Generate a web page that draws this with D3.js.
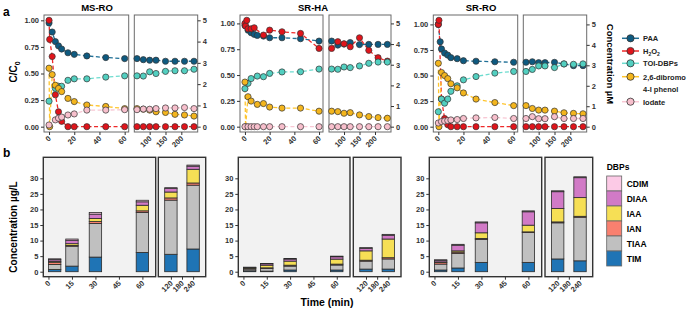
<!DOCTYPE html>
<html>
<head>
<meta charset="utf-8">
<title>PAA / DBPs</title>
<style>
  body { margin: 0; background: #fff; }
  svg { display: block; font-family: "Liberation Sans", Arial, sans-serif; }
  .tick text { font-weight: bold; fill: #333; font-size: 7.5px; }
  .tick line { stroke: #333; }
</style>
</head>
<body>
<script src="https://cdn.jsdelivr.net/npm/d3@7"></script>
<script>

// ---- panel a: sampling times (min) ----
const topTimes = [0, 0.5, 1.5, 2.5, 5, 7.5, 10, 15, 20, 30, 45, 60, 80, 100, 120, 150, 180, 210, 240];

// PAA and H2O2 as C/C0, the other three in µM (right axis)
const msroPAA    = [0.975, null, null, 0.89, 0.80, 0.76, 0.73, 0.695, 0.68, 0.665, 0.65, 0.64, 0.63, 0.625, 0.625, 0.615, 0.615, 0.615, 0.615];
const msroH2O2   = [1.0, 0.82, null, 0.66, 0.30, 0.14, 0.05, 0, 0, 0, 0, 0, 0, 0, 0, 0, 0, 0, 0];
const msroTOI    = [1.2, null, null, null, 1.8, 1.9, 1.9, 2.18, 2.25, 2.25, 2.33, 2.39, 2.38, 2.58, 2.5, 2.6, 2.63, 2.63, 2.7];
const msroPhenol = [2.75, 0, null, 2.45, 1.95, 1.8, 1.65, 1.33, 1.18, 1.02, 0.95, 0.85, 0.82, 0.78, 0.7, 0.67, 0.58, 0.55, 0.5];
const msroIodate = [0.08, null, null, null, 0.32, 0.4, 0.45, 0.55, 0.6, 0.78, 0.78, 0.8, 0.83, 0.82, 0.85, 0.88, 0.88, 0.9, 0.85];

const srhaPAA    = [0.98, null, null, 0.935, 0.91, 0.894, 0.884, 0.877, 0.861, 0.861, 0.852, 0.829, 0.79, 0.80, 0.815, 0.795, 0.797, 0.797, 0.797];
const srhaH2O2   = [1.0, 0.975, 1.03, 0.948, 0.948, 0.958, null, 0.887, 0.935, 0.919, 0.903, 0.758, 0.823, 0.803, 0.774, 0.861, 0.739, 0.668, 0.635];
const srhaTOI    = [1.84, null, null, 2.1, 2.33, null, 2.45, 2.42, 2.58, 2.65, 2.66, 2.79, 2.78, 2.89, 2.86, 2.94, 3.07, 3.13, 3.13];
const srhaPhenol = [2.16, 0, null, 1.45, 1.24, null, 1.08, 1.12, 0.95, 0.9, 0.9, 0.75, 0.73, 0.65, 0.68, 0.57, 0.49, 0.44, 0.41];
const srhaIodate = [0, null, null, 0, 0, 0, 0, 0, 0, 0, 0, 0, 0, 0, 0, 0, 0, 0, 0];

const srroPAA    = [1.0, null, 0.83, 0.76, 0.72, 0.70, 0.675, 0.665, 0.645, 0.64, 0.635, 0.63, 0.635, 0.626, 0.626, 0.629, 0.613, 0.597, 0.597];
const srroH2O2   = [1.0, 1.04, null, 0.27, 0.08, 0.02, 0.0, 0, 0, 0, 0, 0, 0, 0, 0, 0, 0, 0, 0];
const srroTOI    = [0.73, null, null, 1.35, 1.15, 1.35, 1.73, 2.0, 2.29, 2.45, 2.62, 2.7, 2.8, 2.97, 2.97, 2.89, 3.07, 3.05, 3.07];
const srroPhenol = [3.1, 0, null, 2.65, 2.5, 2.35, 2.1, 1.9, 1.65, 1.35, 1.18, 1.03, 0.89, 0.81, 0.81, 0.76, 0.68, 0.65, 0.63];
const srroIodate = [0.18, null, null, 0.25, 0.28, 0.3, 0.33, 0.35, 0.4, 0.43, 0.45, 0.4, 0.49, 0.39, 0.39, 0.49, 0.4, 0.4, 0.4];

const topTitles = ['MS-RO', 'SR-HA', 'SR-RO'];
const topLeftTicks = [0, 0.25, 0.5, 0.75, 1];
const topRightTicks = [0, 1, 2, 3, 4, 5];

// ---- panel b: DBPs (µg/L) ----
const barTimes = [0, 15, 30, 60, 120, 240];
const dbpNames = ['TIM', 'TIAA', 'IAN', 'IAA', 'DIAA', 'CDIM'];

const msroTIM  = [0.75, 1.8, 4.7, 6.2, 5.6, 7.3];
const msroTIAA = [1.6, 6.4, 10.8, 12.85, 17.4, 20.5];
const msroIAN  = [0.7, 0.25, 0.6, 0.5, 0.7, 0.7];
const msroIAA  = [0.3, 0.55, 1.0, 1.8, 1.9, 4.4];
const msroDIAA = [0.5, 1.1, 1.4, 1.1, 1.1, 1.0];
const msroCDIM = [0.3, 0.4, 0.5, 0.5, 0.3, 0.35];

const srhaTIM  = [0.3, 0.2, 0.55, 0.55, 0.85, 0.85];
const srhaTIAA = [0.55, 0.85, 1.25, 1.6, 2.55, 3.25];
const srhaIAN  = [0.2, 0.2, 0.3, 0.3, 0.3, 0.4];
const srhaIAA  = [0.25, 0.85, 1.3, 1.6, 3.0, 6.0];
const srhaDIAA = [0.1, 0.45, 0.65, 0.75, 0.75, 1.2];
const srhaCDIM = [0.05, 0.1, 0.2, 0.2, 0.3, 0.3];

const srroTIM  = [0.55, 1.2, 3.0, 3.0, 4.1, 3.5];
const srroTIAA = [1.9, 4.7, 7.4, 9.6, 11.6, 14.0];
const srroIAN  = [0.5, 0.4, 0.3, 0.2, 0.3, 0.3];
const srroIAA  = [0.2, 0.4, 1.8, 2.15, 4.3, 6.0];
const srroDIAA = [0.5, 1.8, 3.2, 4.3, 5.4, 6.4];
const srroCDIM = [0.2, 0.3, 0.3, 0.3, 0.3, 0.3];

const barLeftTicks = [0, 15, 30, 45, 60];
const barRightTicks = [120, 180, 240];
const barYTicks = [0, 5, 10, 15, 20, 25, 30];

// ---- styles ----
const series = [
    {key: 'PAA',    fill: '#0e5a80', line: '#1f6f96', uM: false},
    {key: 'H2O2',   fill: '#e0141b', line: '#ee2a2a', uM: false},
    {key: 'TOI',    fill: '#52cfc0', line: '#6ddccf', uM: true},
    {key: 'phenol', fill: '#f3b51d', line: '#ffc52e', uM: true},
    {key: 'iodate', fill: '#f7bfcc', line: '#f8c8d4', uM: true}
];
const dbpColor = d3.scaleOrdinal()
    .domain(dbpNames)
    .range(['#1f74b5', '#c0c0c0', '#f9806f', '#f6df55', '#d17ac6', '#fccae6']);

const topGeo = [
    {l0: 44, l1: 128.7, r0: 134.3, r1: 197.7, tx: 97},
    {l0: 240, l1: 323, r0: 329, r1: 391, tx: 313},
    {l0: 433.3, l1: 517.7, r0: 523.3, r1: 586.7, tx: 481}
];
const topY0 = 132, topY1 = 15;

const botGeo = [
    {l0: 43.3, l1: 155.7, r0: 158.3, r1: 205.7},
    {l0: 238.3, l1: 350, r0: 353.3, r1: 401},
    {l0: 429.3, l1: 541.7, r0: 545, r1: 592.7}
];
const botY0 = 276.7, botY1 = 157.3;
const barW = 12.4;

const svg = d3.select('body').append('svg')
    .attr('width', 693)
    .attr('height', 309);

function styleAxis(g) {
    g.select('.domain').remove();
}

function rotateLabels(g) {
    g.selectAll('.tick text')
        .attr('y', 0).attr('dy', 0)
        .attr('transform', 'translate(2,7) rotate(-45)')
        .style('text-anchor', 'end');
}

// ================= panel a =================
const topData = [
    [msroPAA, msroH2O2, msroTOI, msroPhenol, msroIodate],
    [srhaPAA, srhaH2O2, srhaTOI, srhaPhenol, srhaIodate],
    [srroPAA, srroH2O2, srroTOI, srroPhenol, srroIodate]
];

topData.forEach((vals, pi) => {
    const geo = topGeo[pi];
    const maxC = d3.max(vals, (arr, i) => d3.max(arr, v => v == null ? 0 : (series[i].uM ? v / 5 : v)));
    const pad = maxC * 0.05;
    const y = d3.scaleLinear().domain([-pad, maxC + pad]).range([topY0, topY1]);
    const yR = d3.scaleLinear().domain([-pad * 5, (maxC + pad) * 5]).range([topY0, topY1]);

    const subs = [
        {x: d3.scaleLinear().domain([-4, 63.2]).range([geo.l0, geo.l1]), keep: t => t <= 60, ticks: [0, 20, 40, 60]},
        {x: d3.scaleLinear().domain([51.5, 251.7]).range([geo.r0, geo.r1]), keep: t => t >= 60, ticks: [100, 150, 200]}
    ];

    const g = svg.append('g');

    subs.forEach(s => {
        const [a, b] = s.x.range();
        g.append('rect')
            .attr('x', a).attr('y', topY1)
            .attr('width', b - a).attr('height', topY0 - topY1)
            .attr('fill', '#fff').attr('stroke', '#6b6b6b').attr('stroke-width', 1);

        g.append('g')
            .attr('transform', 'translate(0,' + topY0 + ')')
            .call(d3.axisBottom(s.x).tickValues(s.ticks).tickSize(3).tickPadding(2))
            .call(styleAxis)
            .call(rotateLabels);

        const pts = vals.map((arr, i) => topTimes
            .map((t, j) => ({t: t, v: arr[j]}))
            .filter(d => d.v != null && s.keep(d.t)));

        const line = i => d3.line()
            .x(d => s.x(d.t))
            .y(d => series[i].uM ? yR(d.v) : y(d.v));

        pts.forEach((p, i) => {
            g.append('path')
                .datum(p)
                .attr('d', line(i))
                .attr('fill', 'none')
                .attr('stroke', series[i].line)
                .attr('stroke-width', 1.3)
                .attr('stroke-dasharray', '4,2.5');
        });

        pts.forEach((p, i) => {
            g.selectAll(null)
                .data(p)
                .enter().append('circle')
                .attr('cx', d => s.x(d.t))
                .attr('cy', d => series[i].uM ? yR(d.v) : y(d.v))
                .attr('r', 3.1)
                .attr('fill', series[i].fill)
                .attr('stroke', '#333')
                .attr('stroke-width', 0.7);
        });
    });

    g.append('g')
        .attr('transform', 'translate(' + geo.l0 + ',0)')
        .call(d3.axisLeft(y).tickValues(topLeftTicks).tickFormat(d3.format('.2f')).tickSize(3).tickPadding(2))
        .call(styleAxis);

    g.append('g')
        .attr('transform', 'translate(' + geo.r1 + ',0)')
        .call(d3.axisRight(yR).tickValues(topRightTicks).tickFormat(d3.format('d')).tickSize(3).tickPadding(2))
        .call(styleAxis);

    g.append('text')
        .attr('x', geo.tx).attr('y', 11)
        .attr('text-anchor', 'middle')
        .style('font-size', '9.5px').style('font-weight', 'bold')
        .text(topTitles[pi]);
});

svg.append('text')
    .attr('x', 3).attr('y', 16)
    .style('font-size', '12px').style('font-weight', 'bold')
    .text('a');

const cc0 = svg.append('text')
    .attr('transform', 'translate(17,72) rotate(-90)')
    .attr('text-anchor', 'middle')
    .style('font-size', '10px').style('font-weight', 'bold');
cc0.append('tspan').text('C/C');
cc0.append('tspan').attr('dy', 2.5).style('font-size', '7px').text('0');

svg.append('text')
    .attr('transform', 'translate(607,64) rotate(90)')
    .attr('text-anchor', 'middle')
    .style('font-size', '9.5px').style('font-weight', 'bold')
    .text('Concentration µM');

// legend a
const legA = svg.append('g').attr('transform', 'translate(622,0)');
const legRows = [38.3, 51, 63.3, 76.7, 101.7];
series.forEach((s, i) => {
    const ly = legRows[i];
    legA.append('line')
        .attr('x1', 0).attr('x2', 17).attr('y1', ly).attr('y2', ly)
        .attr('stroke', s.line).attr('stroke-width', 1.5);
    legA.append('circle')
        .attr('cx', 8.5).attr('cy', ly).attr('r', 3.6)
        .attr('fill', s.fill).attr('stroke', '#333').attr('stroke-width', 0.8);
});
const legText = (ly) => legA.append('text')
    .attr('x', 21).attr('y', ly + 2.8)
    .style('font-size', '7.5px').style('font-weight', 'bold').style('fill', '#222');
legText(38.3).text('PAA');
const h2o2 = legText(51);
h2o2.append('tspan').text('H');
h2o2.append('tspan').attr('dy', 1.8).style('font-size', '5px').text('2');
h2o2.append('tspan').attr('dy', -1.8).text('O');
h2o2.append('tspan').attr('dy', 1.8).style('font-size', '5px').text('2');
legText(63.3).text('TOI-DBPs');
legText(76.7).text('2,6-dibromo');
legText(89.3).text('4-I phenol');
legText(101.7).text('Iodate');

// ================= panel b =================
const botData = [
    [msroTIM, msroTIAA, msroIAN, msroIAA, msroDIAA, msroCDIM],
    [srhaTIM, srhaTIAA, srhaIAN, srhaIAA, srhaDIAA, srhaCDIM],
    [srroTIM, srroTIAA, srroIAN, srroIAA, srroDIAA, srroCDIM]
];

const yB = d3.scaleLinear().domain([-1.6, 36.75]).range([botY0, botY1]);
const stack = d3.stack().keys(dbpNames);

botData.forEach((vals, pi) => {
    const geo = botGeo[pi];
    const rows = barTimes.map((t, j) => {
        const r = {time: t};
        dbpNames.forEach((k, i) => { r[k] = vals[i][j]; });
        return r;
    });
    const stacked = stack(rows);

    const subs = [
        {x: d3.scaleLinear().domain([-3.3, 68.5]).range([geo.l0, geo.l1]), keep: t => t <= 60, ticks: barLeftTicks},
        {x: d3.scaleLinear().domain([52, 308]).range([geo.r0, geo.r1]), keep: t => t > 60, ticks: barRightTicks}
    ];

    const g = svg.append('g');

    subs.forEach(s => {
        const [a, b] = s.x.range();
        g.append('rect')
            .attr('x', a).attr('y', botY1)
            .attr('width', b - a).attr('height', botY0 - botY1)
            .attr('fill', '#f2f2f2').attr('stroke', '#333').attr('stroke-width', 1.4);

        // bars never reach below time zero
        const x0 = d => Math.max(s.x(d.data.time) - barW / 2, s.x(0));

        g.selectAll(null)
            .data(stacked)
            .enter().append('g')
            .attr('fill', d => dbpColor(d.key))
            .selectAll('rect')
            .data(d => d.filter(e => s.keep(e.data.time)))
            .enter().append('rect')
            .attr('x', x0)
            .attr('width', barW)
            .attr('y', d => yB(d[1]))
            .attr('height', d => yB(d[0]) - yB(d[1]))
            .attr('stroke', '#2b2b2b')
            .attr('stroke-width', 0.8);

        g.append('g')
            .attr('transform', 'translate(0,' + botY0 + ')')
            .call(d3.axisBottom(s.x).tickValues(s.ticks).tickSize(3).tickPadding(2))
            .call(styleAxis)
            .call(rotateLabels);
    });

    g.append('g')
        .attr('transform', 'translate(' + geo.l0 + ',0)')
        .call(d3.axisLeft(yB).tickValues(barYTicks).tickSize(3).tickPadding(2))
        .call(styleAxis);
});

svg.append('text')
    .attr('x', 3).attr('y', 157)
    .style('font-size', '12px').style('font-weight', 'bold')
    .text('b');

svg.append('text')
    .attr('transform', 'translate(17,227) rotate(-90)')
    .attr('text-anchor', 'middle')
    .style('font-size', '10px').style('font-weight', 'bold')
    .text('Concentration µg/L');

svg.append('text')
    .attr('x', 327).attr('y', 306)
    .attr('text-anchor', 'middle')
    .style('font-size', '10.5px').style('font-weight', 'bold')
    .text('Time (min)');

// legend b
const legB = svg.append('g').attr('transform', 'translate(606.7,0)');
legB.append('text')
    .attr('x', 0).attr('y', 170)
    .style('font-size', '8.5px').style('font-weight', 'bold')
    .text('DBPs');
dbpNames.slice().reverse().forEach((k, i) => {
    const top = 176 + i * 15;
    legB.append('rect')
        .attr('x', 0).attr('y', top)
        .attr('width', 15).attr('height', 15)
        .attr('fill', dbpColor(k)).attr('stroke', '#666').attr('stroke-width', 0.8);
    legB.append('text')
        .attr('x', 20).attr('y', top + 10.5)
        .style('font-size', '8.5px').style('font-weight', 'bold')
        .text(k);
});

</script>
</body>
</html>
